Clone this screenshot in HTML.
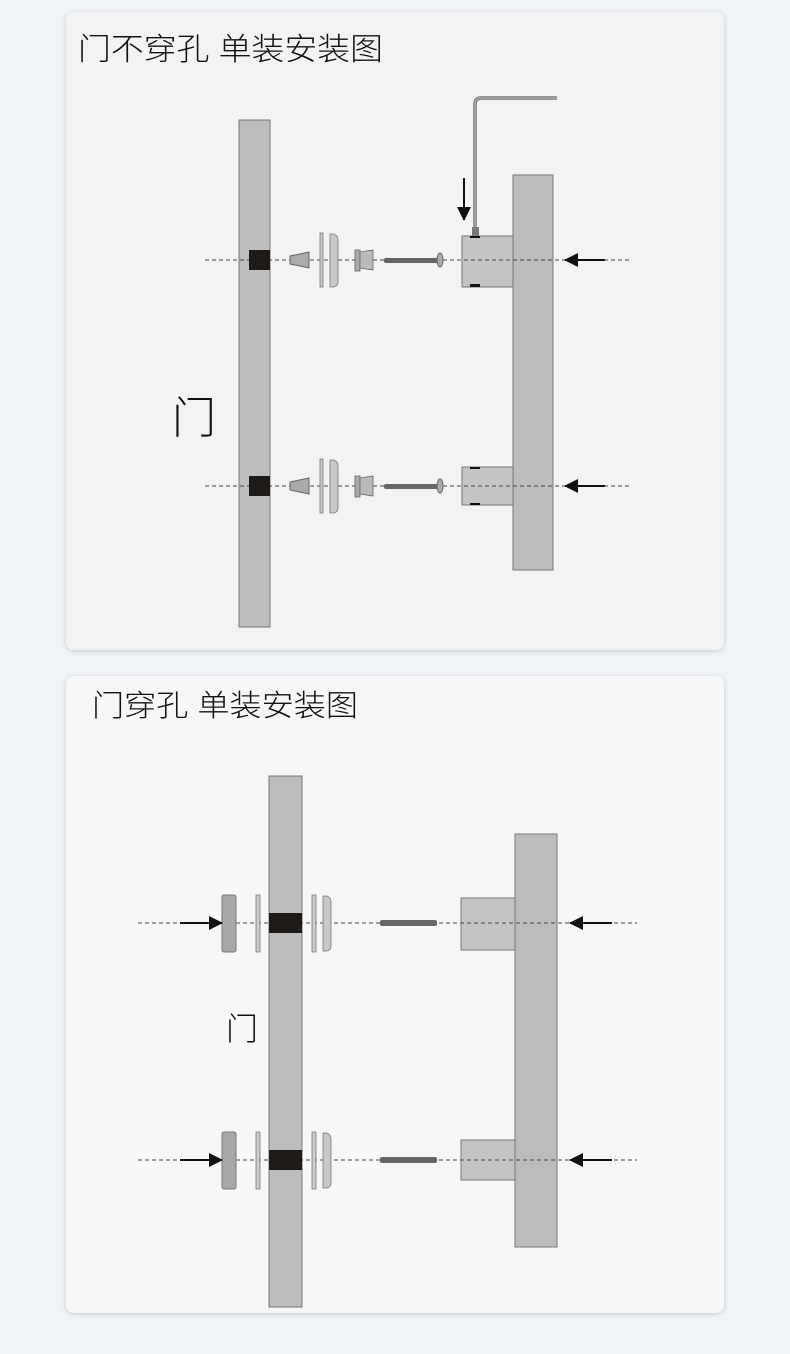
<!DOCTYPE html>
<html><head><meta charset="utf-8"><style>
html,body{margin:0;padding:0;background:#eef3f6;}
svg{display:block}
text{font-family:"Liberation Sans","Noto Sans CJK SC",sans-serif;font-weight:300;fill:#111}
</style></head><body>
<svg width="790" height="1354" viewBox="0 0 790 1354" xmlns="http://www.w3.org/2000/svg">
<defs>
<filter id="sh" x="-5%" y="-5%" width="110%" height="110%"><feDropShadow dx="0" dy="1" stdDeviation="2" flood-color="#000" flood-opacity="0.18"/></filter>
<marker id="ah" markerWidth="14" markerHeight="14" refX="13" refY="7" orient="auto" markerUnits="userSpaceOnUse"><path d="M0,0 L14,7 L0,14 z" fill="#111"/></marker>
</defs>
<rect x="66" y="12" width="658" height="638" rx="8" fill="#f3f3f3" filter="url(#sh)"/>
<rect x="66" y="676" width="658" height="637" rx="8" fill="#f7f7f7" filter="url(#sh)"/>
<text x="78" y="60" font-size="31" textLength="305" lengthAdjust="spacingAndGlyphs">门不穿孔 单装安装图</text>
<text x="92" y="716" font-size="30" textLength="266" lengthAdjust="spacingAndGlyphs">门穿孔 单装安装图</text>

<rect x="239" y="120" width="31" height="507" fill="#bdbdbd" stroke="#777"/>
<rect x="513" y="175" width="40" height="395" fill="#bdbdbd" stroke="#777"/>
<rect x="462" y="236" width="51" height="51" fill="#c4c4c4" stroke="#777"/>
<rect x="462" y="467" width="51" height="38" fill="#c4c4c4" stroke="#777"/>
<text x="172" y="433" font-size="44">门</text>
<path d="M475,228 V104 Q475,98 481,98 H557" fill="none" stroke="#777" stroke-width="3.5"/>
<path d="M475,228 V104 Q475,98 481,98 H557" fill="none" stroke="#aaa" stroke-width="1.5"/>
<rect x="472" y="227" width="7" height="9" fill="#777"/>
<line x1="464" y1="178" x2="464" y2="220" stroke="#111" stroke-width="2" marker-end="url(#ah)"/>
<g>
<line x1="205" y1="260" x2="630" y2="260" stroke="#444" stroke-dasharray="4,3"/>
<rect x="249" y="250" width="21" height="20" fill="#1d1a17"/>
<path d="M290,256 L309,252 L309,268 L290,264 z" fill="#aaa" stroke="#666"/>
<rect x="320" y="233" width="3" height="54" fill="#ccc" stroke="#777" stroke-width="0.8"/>
<path d="M330,234 H334 Q338,236 338,240 V282 Q338,286 334,287 H330 z" fill="#c8c8c8" stroke="#777" stroke-width="0.8"/>
<rect x="355" y="250" width="5" height="21" fill="#aaa" stroke="#666" stroke-width="0.8"/>
<path d="M360,252 L373,250 V270 L360,268 z" fill="#bbb" stroke="#666" stroke-width="0.8"/>
<rect x="384" y="258" width="54" height="5" rx="2" fill="#666"/>
<ellipse cx="440" cy="260" rx="3" ry="7" fill="#aaa" stroke="#666"/>
<line x1="605" y1="260" x2="565" y2="260" stroke="#111" stroke-width="2" marker-end="url(#ah)"/>
<rect x="470" y="284" width="10" height="3" fill="#111"/>
<rect x="470" y="236" width="10" height="2" fill="#111"/>
</g>
<g>
<line x1="205" y1="486" x2="630" y2="486" stroke="#444" stroke-dasharray="4,3"/>
<rect x="249" y="476" width="21" height="20" fill="#1d1a17"/>
<path d="M290,482 L309,478 L309,494 L290,490 z" fill="#aaa" stroke="#666"/>
<rect x="320" y="459" width="3" height="54" fill="#ccc" stroke="#777" stroke-width="0.8"/>
<path d="M330,460 H334 Q338,462 338,466 V508 Q338,512 334,513 H330 z" fill="#c8c8c8" stroke="#777" stroke-width="0.8"/>
<rect x="355" y="476" width="5" height="21" fill="#aaa" stroke="#666" stroke-width="0.8"/>
<path d="M360,478 L373,476 V496 L360,494 z" fill="#bbb" stroke="#666" stroke-width="0.8"/>
<rect x="384" y="484" width="54" height="5" rx="2" fill="#666"/>
<ellipse cx="440" cy="486" rx="3" ry="7" fill="#aaa" stroke="#666"/>
<line x1="605" y1="486" x2="565" y2="486" stroke="#111" stroke-width="2" marker-end="url(#ah)"/>
<rect x="470" y="467" width="10" height="2" fill="#111"/>
<rect x="470" y="503" width="10" height="2" fill="#111"/>
</g>

<rect x="269" y="776" width="33" height="531" fill="#bdbdbd" stroke="#777"/>
<rect x="515" y="834" width="42" height="413" fill="#bdbdbd" stroke="#777"/>
<rect x="461" y="898" width="54" height="52" fill="#c4c4c4" stroke="#777"/>
<rect x="461" y="1140" width="54" height="40" fill="#c4c4c4" stroke="#777"/>
<text x="226" y="1040" font-size="32">门</text>
<g>
<line x1="138" y1="923" x2="637" y2="923" stroke="#444" stroke-dasharray="4,3"/>
<rect x="269" y="913" width="33" height="20" fill="#1d1a17"/>
<rect x="222" y="895" width="14" height="57" rx="2" fill="#a8a8a8" stroke="#777"/>
<rect x="256" y="895" width="4" height="57" fill="#ccc" stroke="#777" stroke-width="0.8"/>
<rect x="312" y="895" width="4" height="57" fill="#ccc" stroke="#777" stroke-width="0.8"/>
<path d="M323,896 H327 Q331,898 331,902 V946 Q331,950 327,951 H323 z" fill="#c8c8c8" stroke="#777" stroke-width="0.8"/>
<rect x="380" y="920" width="57" height="6" rx="2" fill="#666"/>
<line x1="180" y1="923" x2="222" y2="923" stroke="#111" stroke-width="2" marker-end="url(#ah)"/>
<line x1="612" y1="923" x2="570" y2="923" stroke="#111" stroke-width="2" marker-end="url(#ah)"/>
</g>
<g>
<line x1="138" y1="1160" x2="637" y2="1160" stroke="#444" stroke-dasharray="4,3"/>
<rect x="269" y="1150" width="33" height="20" fill="#1d1a17"/>
<rect x="222" y="1132" width="14" height="57" rx="2" fill="#a8a8a8" stroke="#777"/>
<rect x="256" y="1132" width="4" height="57" fill="#ccc" stroke="#777" stroke-width="0.8"/>
<rect x="312" y="1132" width="4" height="57" fill="#ccc" stroke="#777" stroke-width="0.8"/>
<path d="M323,1133 H327 Q331,1135 331,1139 V1183 Q331,1187 327,1188 H323 z" fill="#c8c8c8" stroke="#777" stroke-width="0.8"/>
<rect x="380" y="1157" width="57" height="6" rx="2" fill="#666"/>
<line x1="180" y1="1160" x2="222" y2="1160" stroke="#111" stroke-width="2" marker-end="url(#ah)"/>
<line x1="612" y1="1160" x2="570" y2="1160" stroke="#111" stroke-width="2" marker-end="url(#ah)"/>
</g>
</svg>
</body></html>
